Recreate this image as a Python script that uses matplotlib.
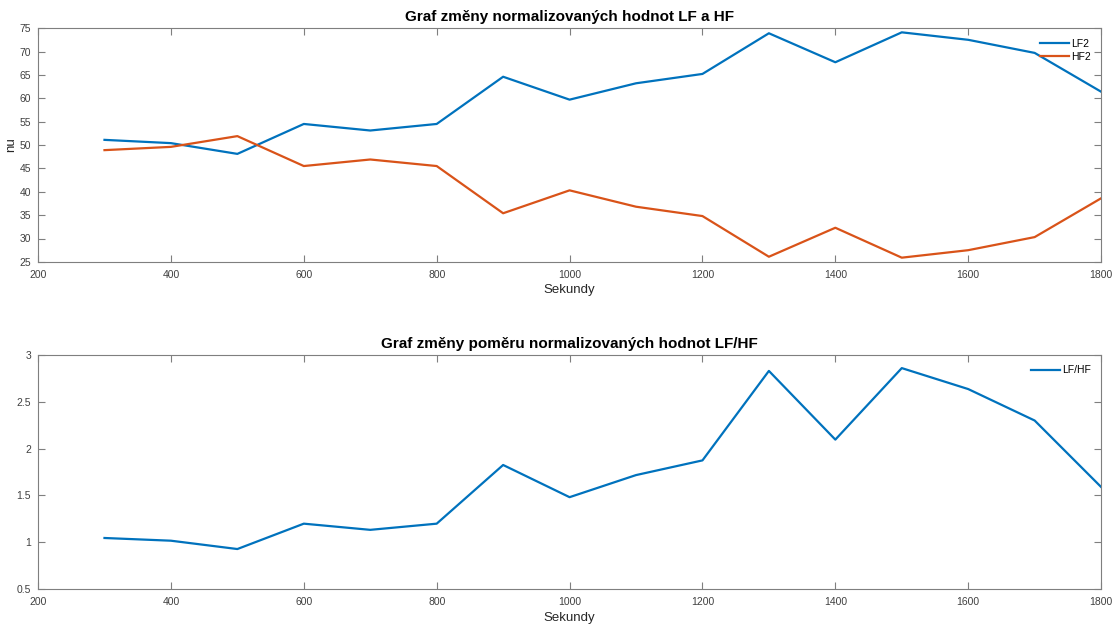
import matplotlib
matplotlib.use("Agg")
import matplotlib.pyplot as plt

seconds = [300, 400, 500, 600, 700, 800, 900, 1000, 1100, 1200, 1300, 1400, 1500, 1600, 1700, 1800]
lf2 = [51.1, 50.4, 48.1, 54.5, 53.1, 54.5, 64.6, 59.7, 63.2, 65.2, 73.9, 67.7, 74.1, 72.5, 69.7, 61.4]
hf2 = [48.9, 49.6, 51.9, 45.5, 46.9, 45.5, 35.4, 40.3, 36.8, 34.8, 26.1, 32.3, 25.9, 27.5, 30.3, 38.6]
lf_hf = [1.045, 1.016, 0.927, 1.198, 1.132, 1.198, 1.825, 1.481, 1.717, 1.874, 2.83, 2.096, 2.86, 2.636, 2.30, 1.59]

x_ticks = [200, 400, 600, 800, 1000, 1200, 1400, 1600, 1800]
y1_ticks = [25, 30, 35, 40, 45, 50, 55, 60, 65, 70, 75]
y2_ticks = [0.5, 1, 1.5, 2, 2.5, 3]

plt.rcParams['font.family'] = ['Liberation Sans', 'DejaVu Sans']
BLUE = '#0072BD'
ORANGE = '#D95319'
AX = '#404040'
SPINE = '#7f7f7f'

fig = plt.figure(figsize=(11.19, 6.25), dpi=100)
ax1 = fig.add_axes([0.034, 0.581, 0.950, 0.374])
ax2 = fig.add_axes([0.034, 0.0576, 0.950, 0.3744])

def style(ax):
    for s in ax.spines.values():
        s.set_color(SPINE)
        s.set_linewidth(0.8)
    ax.tick_params(direction='in', length=5, width=0.8, color=SPINE, labelcolor=AX,
                   labelsize=7.5, top=True, right=True)
    ax.tick_params(axis='x', pad=6)
    ax.tick_params(axis='y', pad=5)
    ax.set_xlim(200, 1800)
    ax.set_xticks(x_ticks)
    ax.set_xticklabels([str(t) for t in x_ticks])
    ax.set_xlabel('Sekundy', fontsize=9.5, color='#262626', labelpad=3)

ax1.plot(seconds, lf2, color=BLUE, lw=1.6, label='LF2')
ax1.plot(seconds, hf2, color=ORANGE, lw=1.6, label='HF2')
style(ax1)
ax1.set_ylim(25, 75)
ax1.set_yticks(y1_ticks)
ax1.set_yticklabels([str(t) for t in y1_ticks])
ax1.set_ylabel('nu', fontsize=9.5, color='#262626', labelpad=2)
ax1.set_title('Graf změny normalizovaných hodnot LF a HF', fontsize=11, fontweight='bold', pad=5)
ax1.legend(loc='upper right', frameon=False, fontsize=7.5, handlelength=2.8,
           handletextpad=0.2, labelspacing=0.3, borderaxespad=0.6)

ax2.plot(seconds, lf_hf, color=BLUE, lw=1.6, label='LF/HF')
style(ax2)
ax2.set_ylim(0.5, 3)
ax2.set_yticks(y2_ticks)
ax2.set_yticklabels(['0.5', '1', '1.5', '2', '2.5', '3'])
ax2.set_title('Graf změny poměru normalizovaných hodnot LF/HF', fontsize=11, fontweight='bold', pad=5)
ax2.legend(loc='upper right', frameon=False, fontsize=7.5, handlelength=2.8,
           handletextpad=0.2, labelspacing=0.3, borderaxespad=0.6)

fig.savefig('out.png', dpi=100)
